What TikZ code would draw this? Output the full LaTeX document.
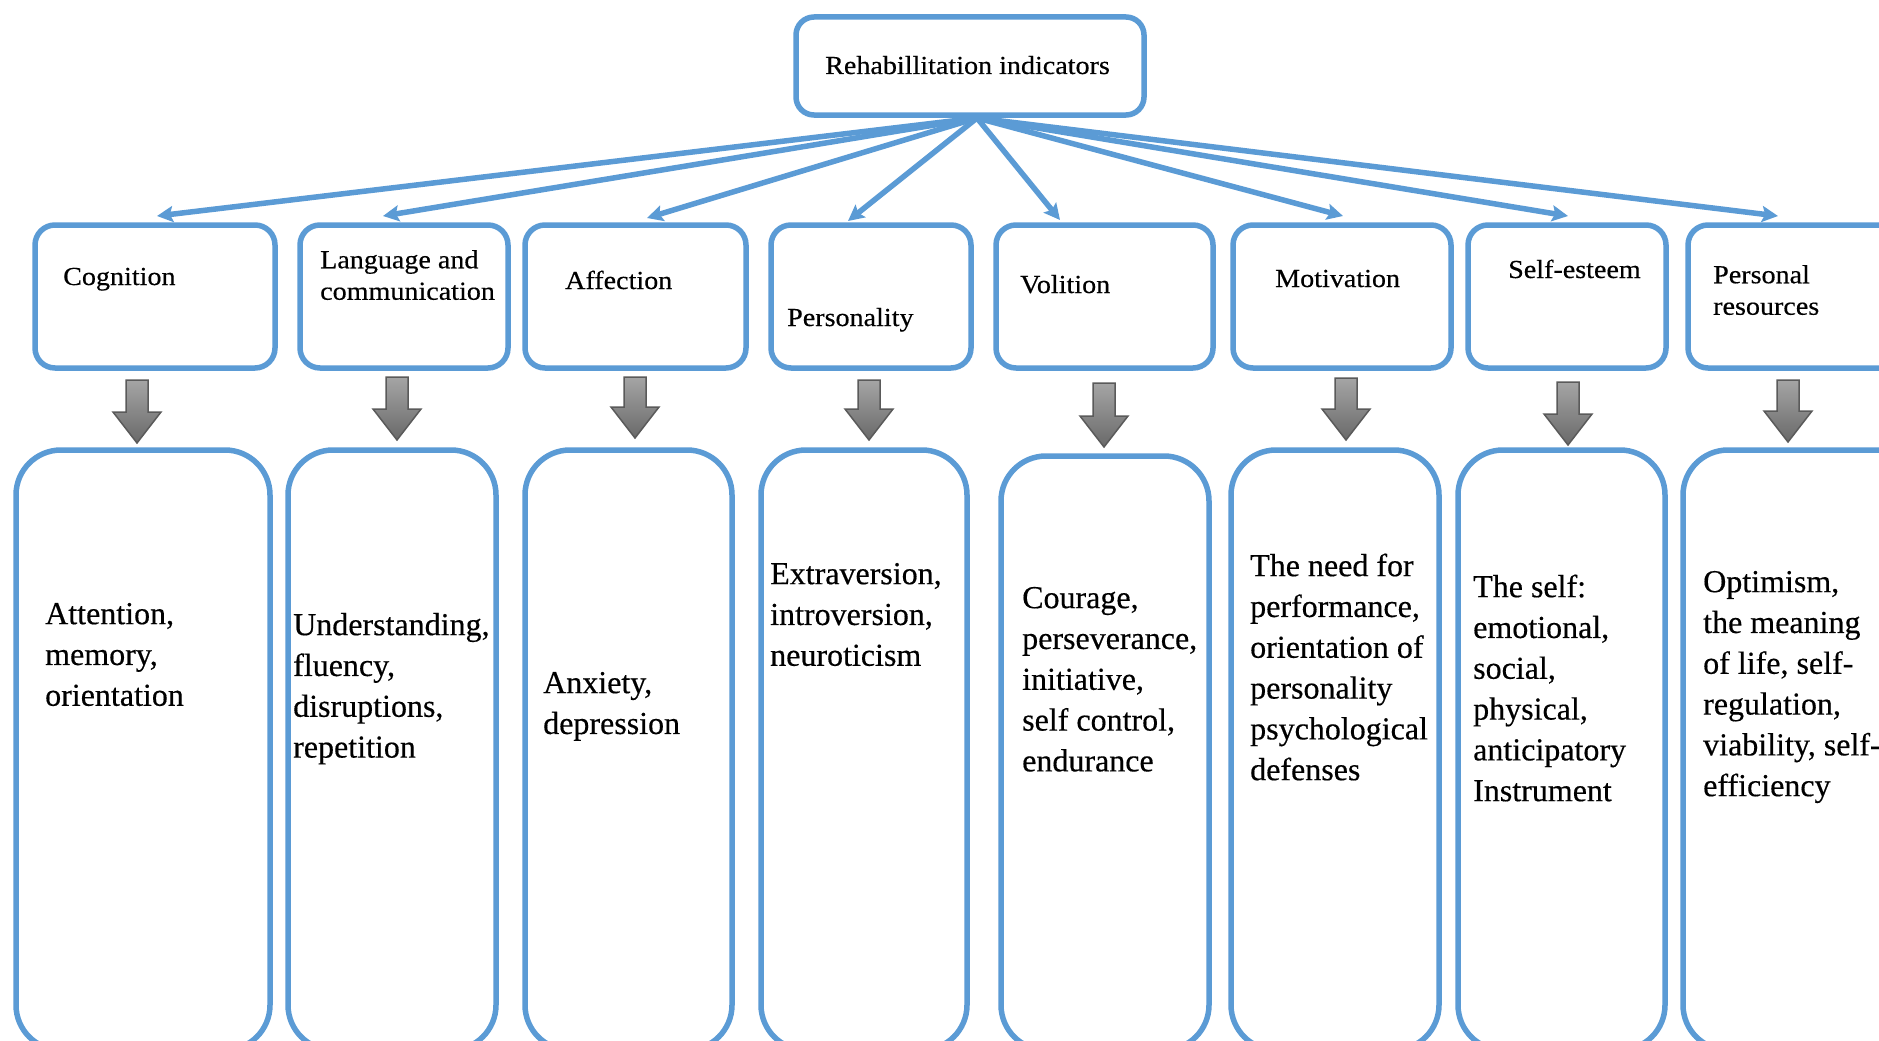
\documentclass[tikz,border=0pt]{standalone}
\usepackage{fontspec}
\setmainfont{Liberation Serif}[FakeBold=0.4]
\newfontfamily\labfont[FakeStretch=1.08,FakeBold=0.4]{Liberation Serif}
\usetikzlibrary{arrows.meta,calc,fit}
\definecolor{bl}{RGB}{91,155,213}
\definecolor{garrowline}{RGB}{90,90,90}
\definecolor{garrowtop}{RGB}{165,165,165}
\definecolor{garrowbot}{RGB}{105,105,105}
\begin{document}
\begin{tikzpicture}[x=1pt,y=-1pt,
  topbox/.style={draw=bl, line width=5.5pt, rounded corners=18pt, fill=white, inner sep=0pt},
  midbox/.style={draw=bl, line width=5.5pt, rounded corners=20pt, fill=white, inner sep=0pt},
  botbox/.style={draw=bl, line width=5.5pt, rounded corners=45pt, fill=white, inner sep=0pt},
  conn/.style={draw=bl, line width=5.5pt, -{Stealth[length=16pt,width=16pt,inset=3pt]}},
  garrow/.style={draw=garrowline, line width=1.5pt, top color=garrowtop, bottom color=garrowbot},
  mlab/.style={font=\labfont\fontsize{26}{31.5}\selectfont, inner sep=0pt},
  mlab2/.style={mlab, align=left, anchor=north west},
  btext/.style={font=\fontsize{32}{40.8}\selectfont, inner sep=0pt, align=left, anchor=north west}
]
\useasboundingbox (0,0) rectangle (1879,1041);
\clip (0,0) rectangle (1879,1041);
\fill[white] (0,0) rectangle (1879,1041);

% top box
\node[topbox, fit={(796,17) (1144,115)}] (top) {};
\node[mlab, anchor=base west] (toplab) at (825,74) {Rehabillitation indicators};

% middle boxes
\node[midbox, fit={(35,225) (275,368)}] (m1) {};
\node[midbox, fit={(300,225) (508,368)}] (m2) {};
\node[midbox, fit={(525,225) (746,368)}] (m3) {};
\node[midbox, fit={(771,225) (971,368)}] (m4) {};
\node[midbox, fit={(996,225) (1213,368)}] (m5) {};
\node[midbox, fit={(1233,225) (1451,368)}] (m6) {};
\node[midbox, fit={(1468,225) (1666,368)}] (m7) {};
\node[midbox, fit={(1688,225) (1930,368)}] (m8) {};

\node[mlab, anchor=base west] (l1) at (63,285) {Cognition};
\node[mlab2] (l2) at (320,246) {\strut Language and\\communication};
\node[mlab, anchor=base west] (l3) at (565,289) {Affection};
\node[mlab, anchor=base west] (l4) at (787,326) {Personality};
\node[mlab, anchor=base west] (l5) at (1020,293) {Volition};
\node[mlab, anchor=base west] (l6) at (1275,287) {Motivation};
\node[mlab, anchor=base west] (l7) at (1508,278) {Self-esteem};
\node[mlab2] (l8) at (1713,261) {\strut Personal\\resources};

% connectors
\coordinate (o) at (977,118);
\coordinate (t1) at (157,216);
\coordinate (t2) at (383,216);
\coordinate (t3) at (647,218);
\coordinate (t4) at (848,221);
\coordinate (t5) at (1060,220);
\coordinate (t6) at (1343,216);
\coordinate (t7) at (1568,216);
\coordinate (t8) at (1778,216);
\foreach \t in {t1,t2,t3,t4,t5,t6,t7,t8}
  \draw[conn] (o) -- (\t);

% bottom boxes
\node[botbox, fit={(16,450) (270,1050)}] (b1) {};
\node[botbox, fit={(288,450) (496,1050)}] (b2) {};
\node[botbox, fit={(525,450) (732,1050)}] (b3) {};
\node[botbox, fit={(761,450) (967,1050)}] (b4) {};
\node[botbox, fit={(1001,456) (1209,1050)}] (b5) {};
\node[botbox, fit={(1231,450) (1439,1050)}] (b6) {};
\node[botbox, fit={(1458,450) (1665,1050)}] (b7) {};
\node[botbox, fit={(1683,450) (1930,1050)}] (b8) {};

\node[btext] (bt1) at (45,595.4) {\strut Attention,\\memory,\\orientation};
\node[btext] (bt2) at (293,606.4) {\strut Understanding,\\fluency,\\disruptions,\\repetition};
\node[btext] (bt3) at (543,664.4) {\strut Anxiety,\\depression};
\node[btext] (bt4) at (770,555.4) {\strut Extraversion,\\introversion,\\neuroticism};
\node[btext] (bt5) at (1022,579.4) {\strut Courage,\\perseverance,\\initiative,\\self control,\\endurance};
\node[btext] (bt6) at (1250,547.4) {\strut The need for\\performance,\\orientation of\\personality\\psychological\\defenses};
\node[btext] (bt7) at (1473,568.4) {\strut The self:\\emotional,\\social,\\physical,\\anticipatory\\Instrument};
\node[btext] (bt8) at (1703,563.4) {\strut Optimism,\\the meaning\\of life, self-\\regulation,\\viability, self-\\efficiency};

% gray block arrows between middle and bottom boxes
\foreach \x/\t/\b in {137/380/443, 397/377/440, 635/377/438, 869/380/440,
                      1104/383/447, 1346/378/440, 1568/382/445, 1788/380/442}
  \draw[garrow] (\x-11,\t) -- (\x+11,\t) -- (\x+11,\b-31) -- (\x+24,\b-31)
     -- (\x,\b) -- (\x-24,\b-31) -- (\x-11,\b-31) -- cycle;
\end{tikzpicture}
\end{document}
